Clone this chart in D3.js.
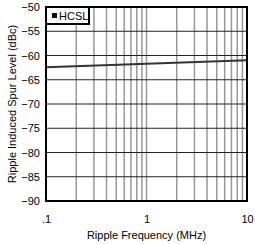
<!DOCTYPE html>
<html><head><meta charset="utf-8">
<script src="https://cdn.jsdelivr.net/npm/d3@7"></script>
<style>body{margin:0;background:#fff}svg{display:block}text{font-family:"Liberation Sans",Arial,sans-serif;fill:#000}</style>
</head><body>
<script>
const freqs = [0.1, 1, 10];
const spur = [-62.4, -61.7, -61.0];
const yTicks = [-50, -55, -60, -65, -70, -75, -80, -85, -90];
const xTicks = [0.1, 1, 10];
const xTickLabels = [".1", "1", "10"];
const seriesName = "HCSL";

const W = 255, H = 244;
const m = {l: 46, r: 8, t: 7, b: 43};
const svg = d3.select("body").append("svg").attr("width", W).attr("height", H);
const x = d3.scaleLog().domain([0.1, 10]).range([m.l, W - m.r]);
const y = d3.scaleLinear().domain([-90, -50]).range([H - m.b, m.t]);

// minor vertical grid
const minor = [];
[0.1, 1].forEach(d => { for (let k = 2; k <= 9; k++) minor.push(d * k); });
minor.push(1);
svg.append("g").selectAll("line").data(minor).join("line")
  .attr("x1", d => x(d)).attr("x2", d => x(d))
  .attr("y1", m.t).attr("y2", H - m.b)
  .attr("stroke", "#999").attr("stroke-width", 1.5);
// horizontal grid
svg.append("g").selectAll("line").data(yTicks).join("line")
  .attr("x1", m.l).attr("x2", W - m.r)
  .attr("y1", d => y(d)).attr("y2", d => y(d))
  .attr("stroke", "#222").attr("stroke-width", 1.2);

// series line
svg.append("path").datum(freqs.map((f, i) => [f, spur[i]]))
  .attr("d", d3.line().x(d => x(d[0])).y(d => y(d[1])))
  .attr("fill", "none").attr("stroke", "#333").attr("stroke-width", 2);

// frame
svg.append("rect").attr("x", m.l).attr("y", m.t)
  .attr("width", W - m.r - m.l).attr("height", H - m.b - m.t)
  .attr("fill", "none").attr("stroke", "#000").attr("stroke-width", 2);

// y axis labels
const yAxis = d3.axisLeft(y).tickValues(yTicks).tickSize(0).tickPadding(6);
const gy = svg.append("g").attr("transform", `translate(${m.l},0)`).call(yAxis);
gy.select(".domain").remove();
gy.selectAll("text").attr("font-size", 11).style("font-family", '"Liberation Sans",Arial,sans-serif');

// x axis labels
const xAxis = d3.axisBottom(x).tickValues(xTicks).tickSize(0).tickPadding(14)
  .tickFormat((d, i) => xTickLabels[i]);
const gx = svg.append("g").attr("transform", `translate(0,${H - m.b})`).call(xAxis);
gx.select(".domain").remove();
gx.selectAll("text").attr("font-size", 11).style("font-family", '"Liberation Sans",Arial,sans-serif');

// axis titles
svg.append("text").attr("x", (m.l + W - m.r) / 2).attr("y", 239)
  .attr("text-anchor", "middle").attr("font-size", 11).text("Ripple Frequency (MHz)");
svg.append("text").attr("transform", `translate(16,${(m.t + H - m.b) / 2}) rotate(-90)`)
  .attr("text-anchor", "middle").attr("font-size", 11).text("Ripple Induced Spur Level (dBc)");

// legend
const lg = svg.append("g");
lg.append("rect").attr("x", m.l).attr("y", m.t).attr("width", 43).attr("height", 17)
  .attr("fill", "#fff").attr("stroke", "#000").attr("stroke-width", 2);
lg.append("rect").attr("x", m.l + 6).attr("y", m.t + 6).attr("width", 5).attr("height", 5).attr("fill", "#111");
lg.append("text").attr("x", m.l + 13).attr("y", m.t + 13).attr("font-size", 11).text(seriesName);
</script>
</body></html>
